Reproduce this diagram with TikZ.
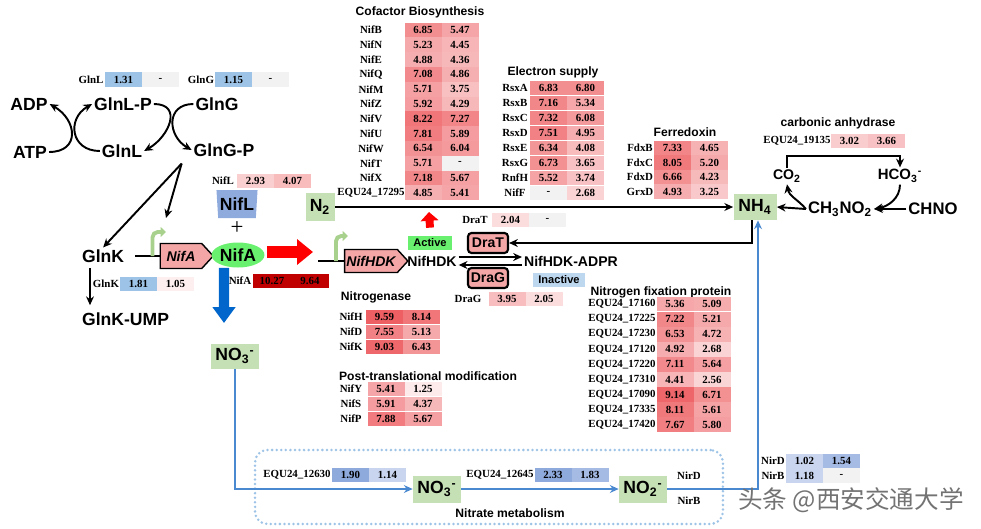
\documentclass[tikz,border=0pt]{standalone}
\usepackage{fontspec}
\usetikzlibrary{positioning,arrows.meta,shapes.geometric,shapes.symbols}
\newfontfamily\arial{Liberation Sans}
\newfontfamily\tnr{Liberation Serif}
\newfontfamily\cjk{Noto Sans CJK SC}
\definecolor{hm}{RGB}{232,45,50}
\definecolor{nacell}{RGB}{242,242,242}
\definecolor{skyblue}{RGB}{157,195,230}
\definecolor{blueA}{RGB}{142,169,219}
\definecolor{blueB}{RGB}{166,187,228}
\definecolor{blueC}{RGB}{201,213,238}
\definecolor{darkred}{RGB}{192,0,0}
\definecolor{molgreen}{RGB}{197,224,180}
\definecolor{brightgreen}{RGB}{105,240,110}
\definecolor{promgreen}{RGB}{169,209,142}
\definecolor{genepink}{RGB}{244,166,166}
\definecolor{niflblue}{RGB}{143,170,220}
\definecolor{inactblue}{RGB}{189,215,238}
\definecolor{lineblue}{RGB}{74,137,208}
\definecolor{arrowblue}{RGB}{0,102,204}
\definecolor{dotblue}{RGB}{157,195,230}

% heat-map cell: red shade from the value, grey for '-'
\newcommand{\hmcell}[3]{%
  \edef\hmval{#3}\def\hmdash{-}%
  \ifx\hmval\hmdash
    \node[cell, fill=nacell] (#1) at (#2) {-};
  \else
    \pgfmathtruncatemacro\hmp{min(8*#3,80)}%
    \node[cell, fill=hm!\hmp] (#1) at (#2) {#3};
  \fi}
% one row: prefix, label x, first cell x, y, label, value 1, value 2
\newcommand{\hmrow}[7]{%
  \node[gene] (#1-l) at (#2,#4) {#5};
  \hmcell{#1-a}{#3,#4}{#6}%
  \pgfmathsetmacro\hmx{#3+37}%
  \hmcell{#1-b}{\hmx,#4}{#7}}

\begin{document}
\begin{tikzpicture}[x=0.02cm, y=-0.02cm,
  lbl/.style={font=\arial\bfseries\fontsize{10}{12}\selectfont, inner sep=1pt},
  small/.style={font=\arial\bfseries\fontsize{8}{10}\selectfont, inner sep=1pt},
  ttl/.style={font=\arial\bfseries\fontsize{6.9}{8}\selectfont, inner sep=0pt},
  gene/.style={font=\tnr\bfseries\fontsize{6.2}{7}\selectfont, inner sep=0pt},
  cell/.style={gene, minimum width=0.74cm, minimum height=0.296cm},
  molbox/.style={lbl, fill=molgreen, inner sep=2pt},
  genearrow/.style={signal, signal to=east, signal pointer angle=95, draw, line width=0.8pt,
    fill=genepink, inner sep=1pt, font=\arial\bfseries\itshape\fontsize{8}{10}\selectfont},
  enzbox/.style={small, draw, line width=1.2pt, rounded corners=2pt, fill=genepink,
    minimum width=0.8cm, minimum height=0.4cm},
  tag/.style={font=\arial\bfseries\fontsize{6.3}{8}\selectfont, minimum height=0.28cm, inner sep=1pt},
  arr/.style={-{Stealth[length=5pt,width=4.5pt]}, line width=1.1pt},
  bluearr/.style={arr, draw=lineblue},
  promoter/.style={-{Triangle[length=3pt,width=5.5pt]}, line width=2.2pt, draw=promgreen, rounded corners=3pt},
  bigred/.style={-{Triangle[length=9pt,width=14pt]}, line width=7.2pt, draw=red},
  smallred/.style={-{Triangle[length=5pt,width=10pt]}, line width=4.5pt, draw=red},
  bigblue/.style={-{Triangle[length=9pt,width=12.5pt]}, line width=5.8pt, draw=arrowblue},
  metabox/.style={draw=dotblue, line width=1.6pt, dash pattern=on 0pt off 2.6pt, line cap=round, rounded corners=7pt}
]
  \useasboundingbox (0,0) rectangle (981,528);

  % Gln cycle
  \node[lbl] (adp) at (29,104) {ADP};
  \node[lbl] (glnlp) at (123,104) {GlnL-P};
  \node[lbl] (glng) at (217,104) {GlnG};
  \node[lbl] (atp) at (30,152) {ATP};
  \node[lbl] (glnl) at (122,151) {GlnL};
  \node[lbl] (glngp) at (224,150) {GlnG-P};
  \draw[arr] (atp.east) to[out=0, in=-30, looseness=1.68] (adp.east);
  \draw[arr] (glnl.west) to[out=180, in=210, looseness=1.58] (glnlp.west);
  \draw[arr] (glnlp.east) to[out=0, in=30, looseness=1.55] (glnl.east);
  \draw[arr] (glng.west) to[out=180, in=150, looseness=1.55] (glngp.west);

  \node[gene] (glnlt-l) at (91,79.5) {GlnL};
  \node[cell, fill=skyblue] (glnlt-a) at (123.5,79.5) {1.31};
  \node[cell, fill=nacell] (glnlt-b) at (160.5,79.5) {-};
  \node[gene] (glngt-l) at (201,79.5) {GlnG};
  \node[cell, fill=skyblue] (glngt-a) at (233.5,79.5) {1.15};
  \node[cell, fill=nacell] (glngt-b) at (270.5,79.5) {-};

  % GlnK and nifA
  \node[lbl, anchor=west] (glnk) at (80,256) {GlnK};
  \node[lbl, anchor=west] (glnkump) at (80,319) {GlnK-UMP};
  \draw[arr, shorten <=2pt, shorten >=3pt] ([xshift=0.2cm]glnk.south west) -- ([xshift=0.2cm]glnkump.north west);
  \node[gene] (glnkt-l) at (106,284) {GlnK};
  \node[cell, fill=skyblue] (glnkt-a) at (138.5,284) {1.81};
  \hmcell{glnkt-b}{175.5,284}{1.05}

  \node[genearrow, minimum width=1.06cm, minimum height=0.5cm] (nifagene) at (181,256) {NifA};
  \draw[line width=1.1pt] ([xshift=0.18cm]glnk.east) -- (nifagene.west);
  \coordinate (nifaTSS) at (166,232);
  \draw[promoter] ([xshift=-0.14cm]nifagene.west) |- (nifaTSS);
  \draw[arr] ([shift={(-10,5)}]glngp.south west) -- (glnk.north);
  \draw[arr] ([shift={(-10,5)}]glngp.south west) -- ([yshift=0.28cm]nifaTSS);

  % NifL / NifA
  \hmrow{niflt}{223}{255.5}{181}{NifL}{2.93}{4.07}
  \node[lbl, trapezium, trapezium angle=84, shape border rotate=180, trapezium stretches=true,
    minimum width=0.82cm, minimum height=0.56cm, fill=niflblue] (nifl) at (237,204) {NifL};
  \node[font=\tnr\fontsize{13}{13}\selectfont, inner sep=0pt] (plus) at (237,228) {+};
  \node[lbl, ellipse, fill=brightgreen, minimum width=1.06cm, minimum height=0.5cm, inner sep=0pt] (nifa) at (238,255) {NifA};
  \node[gene] (nifat-l) at (240,281) {NifA};
  \node[cell, fill=darkred, minimum width=0.76cm] (nifat-a) at (272,281) {10.27};
  \node[cell, fill=darkred, minimum width=0.76cm] (nifat-b) at (310,281) {9.64};
  \coordinate (nitrtip) at (224,323);
  \draw[bigblue] ([xshift=-0.28cm]nifa.south) -- (nitrtip);
  \coordinate (redtip) at (313,252);
  \draw[bigred] ([shift={(2,-3)}]nifa.east) -- (redtip);

  % nifHDK and its switch
  \node[genearrow, minimum width=1.24cm, minimum height=0.46cm] (hdkgene) at (371,261) {NifHDK};
  \coordinate (hdkline) at (318,261);
  \draw[line width=1.1pt] (hdkline) -- (hdkgene.west);
  \coordinate (hdkTSS) at (348,236);
  \draw[promoter] ([xshift=-0.16cm]hdkgene.west) |- (hdkTSS);
  \node[small] (nifhdk) at (432,261) {NifHDK};
  \node[tag, fill=brightgreen, minimum width=0.88cm] (active) at (430,243) {Active};
  \coordinate (uptip) at (429,212);
  \draw[smallred] ([yshift=0.16cm]active.north) -- (uptip);
  \node[enzbox] (drat) at (488,243) {DraT};
  \node[enzbox] (drag) at (488,278) {DraG};
  \node[small, anchor=west] (adpr) at (522,261) {NifHDK-ADPR};
  \node[tag, fill=inactblue, minimum width=1.04cm] (inactive) at (559,280) {Inactive};
  \draw[arr] ([yshift=0.08cm]nifhdk.east) -- ([yshift=0.08cm]adpr.west);
  \draw[arr] ([yshift=-0.08cm]adpr.west) -- ([yshift=-0.08cm]nifhdk.east);
  \hmrow{dratt}{475}{510.5}{220}{DraT}{2.04}{-}
  \hmrow{dragt}{468}{507}{299}{DraG}{3.95}{2.05}

  % N2 fixation to NH4
  \node[molbox, minimum width=0.58cm, minimum height=0.56cm] (n2) at (320,207) {N\textsubscript{2}};
  \node[molbox, minimum width=0.86cm, minimum height=0.52cm] (nh4) at (755,207) {NH\textsubscript{4}};
  \draw[arr] (n2.east) -- (nh4.west);
  \draw[arr] ([xshift=-0.06cm]nh4.south) |- (drat.east);

  % Carbonic anhydrase
  \node[ttl] (cattl) at (838,123) {carbonic anhydrase};
  \hmrow{cat}{797}{849.5}{141}{EQU24\_19135}{3.02}{3.66}
  \node[small] (co2) at (787,176) {CO\textsubscript{2}};
  \node[small, font=\arial\bfseries\fontsize{8.5}{10}\selectfont] (hco3) at (900,176) {HCO\textsubscript{3}\textsuperscript{-}};
  \node[lbl, font=\arial\bfseries\fontsize{9.5}{11}\selectfont] (ch3no2) at (840,209) {CH\textsubscript{3}NO\textsubscript{2}};
  \node[lbl, font=\arial\bfseries\fontsize{9.5}{11}\selectfont] (chno) at (933,209) {CHNO};
  \draw[arr] (co2.north) -- ++(0,-12) -| (hco3.north);
  \draw[arr] (ch3no2.west) to[out=130, in=-80] (co2.south);
  \draw[arr] (hco3.south) to[out=-90, in=10] (ch3no2.east);
  \draw[arr] (chno.west) -- (ch3no2.east);
  \draw[arr] (ch3no2.west) -- (nh4.east);

  % Cofactor biosynthesis
  \node[ttl] (cofttl) at (420,12) {Cofactor Biosynthesis};
  \foreach \gn/\va/\vb [count=\i] in {NifB/6.85/5.47, NifN/5.23/4.45, NifE/4.88/4.36, NifQ/7.08/4.86,
      NifM/5.71/3.75, NifZ/5.92/4.29, NifV/8.22/7.27, NifU/7.81/5.89, NifW/6.54/6.04,
      NifT/5.71/-, NifX/7.18/5.67, EQU24\_17295/4.85/5.41}
    {\pgfmathsetmacro\yy{30+14.8*(\i-1)}
     \hmrow{cof\i}{371}{423}{\yy}{\gn}{\va}{\vb}}

  % Electron supply
  \node[ttl] (elttl) at (553,72) {Electron supply};
  \foreach \gn/\va/\vb [count=\i] in {RsxA/6.83/6.80, RsxB/7.16/5.34, RsxC/7.32/6.08, RsxD/7.51/4.95,
      RsxE/6.34/4.08, RsxG/6.73/3.65, RnfH/5.52/3.74, NifF/-/2.68}
    {\pgfmathsetmacro\yy{88+15*(\i-1)}
     \hmrow{el\i}{515}{548.5}{\yy}{\gn}{\va}{\vb}}

  % Ferredoxin
  \node[ttl] (fdttl) at (685,132) {Ferredoxin};
  \foreach \gn/\va/\vb [count=\i] in {FdxB/7.33/4.65, FdxC/8.05/5.20, FdxD/6.66/4.23, GrxD/4.93/3.25}
    {\pgfmathsetmacro\yy{148+14.6*(\i-1)}
     \hmrow{fd\i}{640}{672.5}{\yy}{\gn}{\va}{\vb}}

  % Nitrogenase
  \node[ttl] (ngttl) at (376,297) {Nitrogenase};
  \foreach \gn/\va/\vb [count=\i] in {NifH/9.59/8.14, NifD/7.55/5.13, NifK/9.03/6.43}
    {\pgfmathsetmacro\yy{317+15*(\i-1)}
     \hmrow{ng\i}{351}{384.5}{\yy}{\gn}{\va}{\vb}}

  % Post-translational modification
  \node[ttl] (ptttl) at (428,376) {Post-translational modification};
  \foreach \gn/\va/\vb [count=\i] in {NifY/5.41/1.25, NifS/5.91/4.37, NifP/7.88/5.67}
    {\pgfmathsetmacro\yy{389+15*(\i-1)}
     \hmrow{pt\i}{351}{386}{\yy}{\gn}{\va}{\vb}}

  % Nitrogen fixation protein
  \node[ttl] (nfttl) at (661,292) {Nitrogen fixation protein};
  \foreach \gn/\va/\vb [count=\i] in {17160/5.36/5.09, 17225/7.22/5.21, 17230/6.53/4.72,
      17120/4.92/2.68, 17220/7.11/5.64, 17310/4.41/2.56, 17090/9.14/6.71, 17335/8.11/5.61, 17420/7.67/5.80}
    {\pgfmathsetmacro\yy{304+15.1*(\i-1)}
     \hmrow{nf\i}{622}{675}{\yy}{EQU24\_\gn}{\va}{\vb}}

  % Nitrate metabolism
  \node[molbox, minimum width=0.96cm, minimum height=0.5cm] (no3a) at (235,356) {NO\textsubscript{3}\textsuperscript{-}};
  \node[metabox, minimum width=9.36cm, minimum height=1.48cm] (nitratebox) at (489,487) {};
  \node[ttl] (nmttl) at (510,513) {Nitrate metabolism};
  \node[molbox, minimum width=0.96cm, minimum height=0.54cm] (no3b) at (437,489) {NO\textsubscript{3}\textsuperscript{-}};
  \node[molbox, minimum width=0.96cm, minimum height=0.54cm] (no2) at (643,489) {NO\textsubscript{2}\textsuperscript{-}};
  \draw[bluearr] (no3a.south) |- (no3b.west);
  \draw[bluearr] (no3b.east) -- (no2.west);
  \draw[bluearr] (no2.east) -| ([xshift=0.06cm]nh4.south);
  \node[gene] (nird-l) at (689,476) {NirD};
  \node[gene] (nirb-l) at (689,501) {NirB};
  \node[gene] (no3t-l) at (297,475) {EQU24\_12630};
  \node[cell, fill=blueA] (no3t-a) at (350.5,475) {1.90};
  \node[cell, fill=blueC] (no3t-b) at (387.5,475) {1.14};
  \node[gene] (no2t-l) at (500,475) {EQU24\_12645};
  \node[cell, fill=blueA] (no2t-a) at (553,475) {2.33};
  \node[cell, fill=blueB] (no2t-b) at (590,475) {1.83};
  \node[gene] (nirdt-l) at (773,461) {NirD};
  \node[cell, fill=blueC] (nirdt-a) at (804.5,461) {1.02};
  \node[cell, fill=blueB] (nirdt-b) at (841.5,461) {1.54};
  \node[gene] (nirbt-l) at (773,475.5) {NirB};
  \node[cell, fill=blueC] (nirbt-a) at (804.5,475.5) {1.18};
  \node[cell, fill=nacell] (nirbt-b) at (841.5,475.5) {-};

  % Watermark
  \node[font=\cjk\fontsize{14}{16}\selectfont, text=black!55, inner sep=0pt] (wm) at (851,500) {头条 @西安交通大学};
\end{tikzpicture}
\end{document}
